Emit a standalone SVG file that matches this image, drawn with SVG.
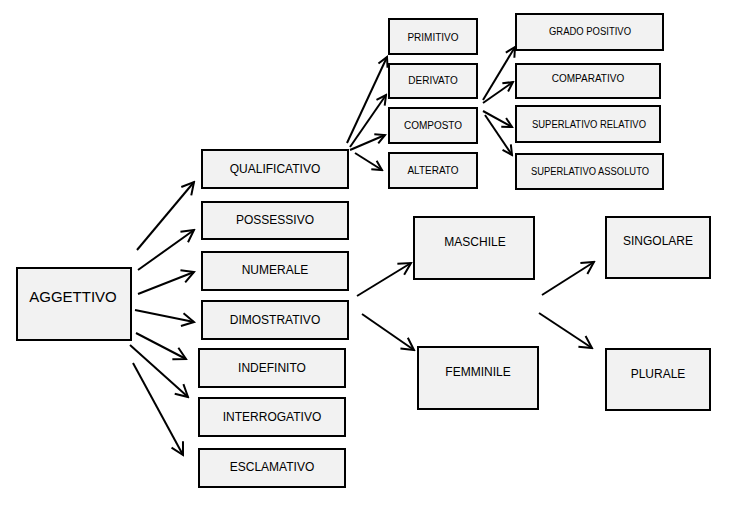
<svg xmlns="http://www.w3.org/2000/svg" width="739" height="517" viewBox="0 0 739 517">
<style>
.box{fill:#f2f2f2;stroke:#000;stroke-width:2}
.t{font-family:"Liberation Sans",Arial,sans-serif;font-size:12px;fill:#000;text-anchor:middle;dominant-baseline:central}
.s{font-size:10px}
.b{font-size:15px}
.c{stroke:#000;stroke-width:2;fill:none}
.big{marker-end:url(#ah)}
.sm{marker-end:url(#as)}
</style>
<defs>
<marker id="ah" viewBox="-14 -8 16 16" markerWidth="16" markerHeight="16" markerUnits="userSpaceOnUse" refX="0" refY="0" orient="auto">
<path d="M-12,-6.5 L0,0 L-12,6.5" fill="none" stroke="#000" stroke-width="2"/>
</marker>
<marker id="as" viewBox="-12 -7 14 14" markerWidth="14" markerHeight="14" markerUnits="userSpaceOnUse" refX="0" refY="0" orient="auto">
<path d="M-9.5,-5 L0,0 L-9.5,5" fill="none" stroke="#000" stroke-width="2"/>
</marker>
</defs>
<rect width="739" height="517" fill="#fff"/>
<g id="connectors">
<line class="c big" x1="137" y1="250" x2="194" y2="182"/>
<line class="c big" x1="138" y1="270" x2="194" y2="230"/>
<line class="c big" x1="138" y1="294" x2="194" y2="272"/>
<line class="c big" x1="135" y1="310" x2="194" y2="322"/>
<line class="c big" x1="136" y1="333" x2="186" y2="359"/>
<line class="c big" x1="130" y1="345" x2="188" y2="397"/>
<line class="c big" x1="133" y1="363" x2="183" y2="455"/>
<line class="c sm" x1="347" y1="143" x2="387" y2="57"/>
<line class="c sm" x1="350" y1="147" x2="386" y2="95"/>
<line class="c sm" x1="350" y1="150" x2="385" y2="135"/>
<line class="c sm" x1="355" y1="153" x2="382" y2="170"/>
<line class="c sm" x1="483" y1="100" x2="515" y2="47"/>
<line class="c sm" x1="483" y1="103" x2="513" y2="82"/>
<line class="c sm" x1="483" y1="111" x2="512" y2="127"/>
<line class="c sm" x1="485" y1="115" x2="512" y2="155"/>
<line class="c big" x1="357" y1="296" x2="411" y2="263"/>
<line class="c big" x1="362" y1="314" x2="414" y2="350"/>
<line class="c big" x1="542" y1="295" x2="594" y2="262"/>
<line class="c big" x1="539" y1="313" x2="592" y2="348"/>
</g>
<g id="aggettivo"><rect class="box" x="17" y="268" width="114" height="72"/><text class="t b" x="73" y="296">AGGETTIVO</text></g>
<g id="qualificativo"><rect class="box" x="202" y="150" width="146" height="38"/><text class="t" x="275" y="168.5">QUALIFICATIVO</text></g>
<g id="possessivo"><rect class="box" x="202" y="202" width="146" height="37"/><text class="t" x="275" y="220">POSSESSIVO</text></g>
<g id="numerale"><rect class="box" x="202" y="252" width="146" height="38"/><text class="t" x="275" y="270">NUMERALE</text></g>
<g id="dimostrativo"><rect class="box" x="202" y="301" width="146" height="38"/><text class="t" x="275" y="320">DIMOSTRATIVO</text></g>
<g id="indefinito"><rect class="box" x="199" y="349" width="146" height="38"/><text class="t" x="272" y="368">INDEFINITO</text></g>
<g id="interrogativo"><rect class="box" x="199" y="398" width="146" height="38"/><text class="t" x="272" y="417">INTERROGATIVO</text></g>
<g id="esclamativo"><rect class="box" x="199" y="449" width="146" height="38"/><text class="t" x="272" y="467">ESCLAMATIVO</text></g>
<g id="primitivo"><rect class="box" x="389" y="19" width="88" height="35"/><text class="t s" x="433" y="37">PRIMITIVO</text></g>
<g id="derivato"><rect class="box" x="389" y="64" width="88" height="34"/><text class="t s" x="433" y="80">DERIVATO</text></g>
<g id="composto"><rect class="box" x="389" y="108" width="88" height="35"/><text class="t s" x="433" y="125">COMPOSTO</text></g>
<g id="alterato"><rect class="box" x="389" y="153" width="88" height="35"/><text class="t s" x="433" y="170">ALTERATO</text></g>
<g id="grado-positivo"><rect class="box" x="516" y="14" width="147" height="36"/><text class="t s" x="590" y="31" textLength="82" lengthAdjust="spacingAndGlyphs">GRADO POSITIVO</text></g>
<g id="comparativo"><rect class="box" x="516" y="64" width="144" height="34"/><text class="t s" x="588" y="78.5">COMPARATIVO</text></g>
<g id="superlativo-relativo"><rect class="box" x="516" y="106" width="144" height="36"/><text class="t s" x="589" y="124" textLength="114" lengthAdjust="spacingAndGlyphs">SUPERLATIVO RELATIVO</text></g>
<g id="superlativo-assoluto"><rect class="box" x="516" y="154" width="147" height="35"/><text class="t s" x="590" y="171" textLength="118" lengthAdjust="spacingAndGlyphs">SUPERLATIVO ASSOLUTO</text></g>
<g id="maschile"><rect class="box" x="414" y="217" width="120" height="62"/><text class="t" x="475" y="241.5">MASCHILE</text></g>
<g id="femminile"><rect class="box" x="418" y="347" width="120" height="62"/><text class="t" x="478" y="371.5">FEMMINILE</text></g>
<g id="singolare"><rect class="box" x="606" y="217" width="104" height="61"/><text class="t" x="658" y="240.5">SINGOLARE</text></g>
<g id="plurale"><rect class="box" x="606" y="349" width="104" height="61"/><text class="t" x="658" y="374">PLURALE</text></g>
</svg>
